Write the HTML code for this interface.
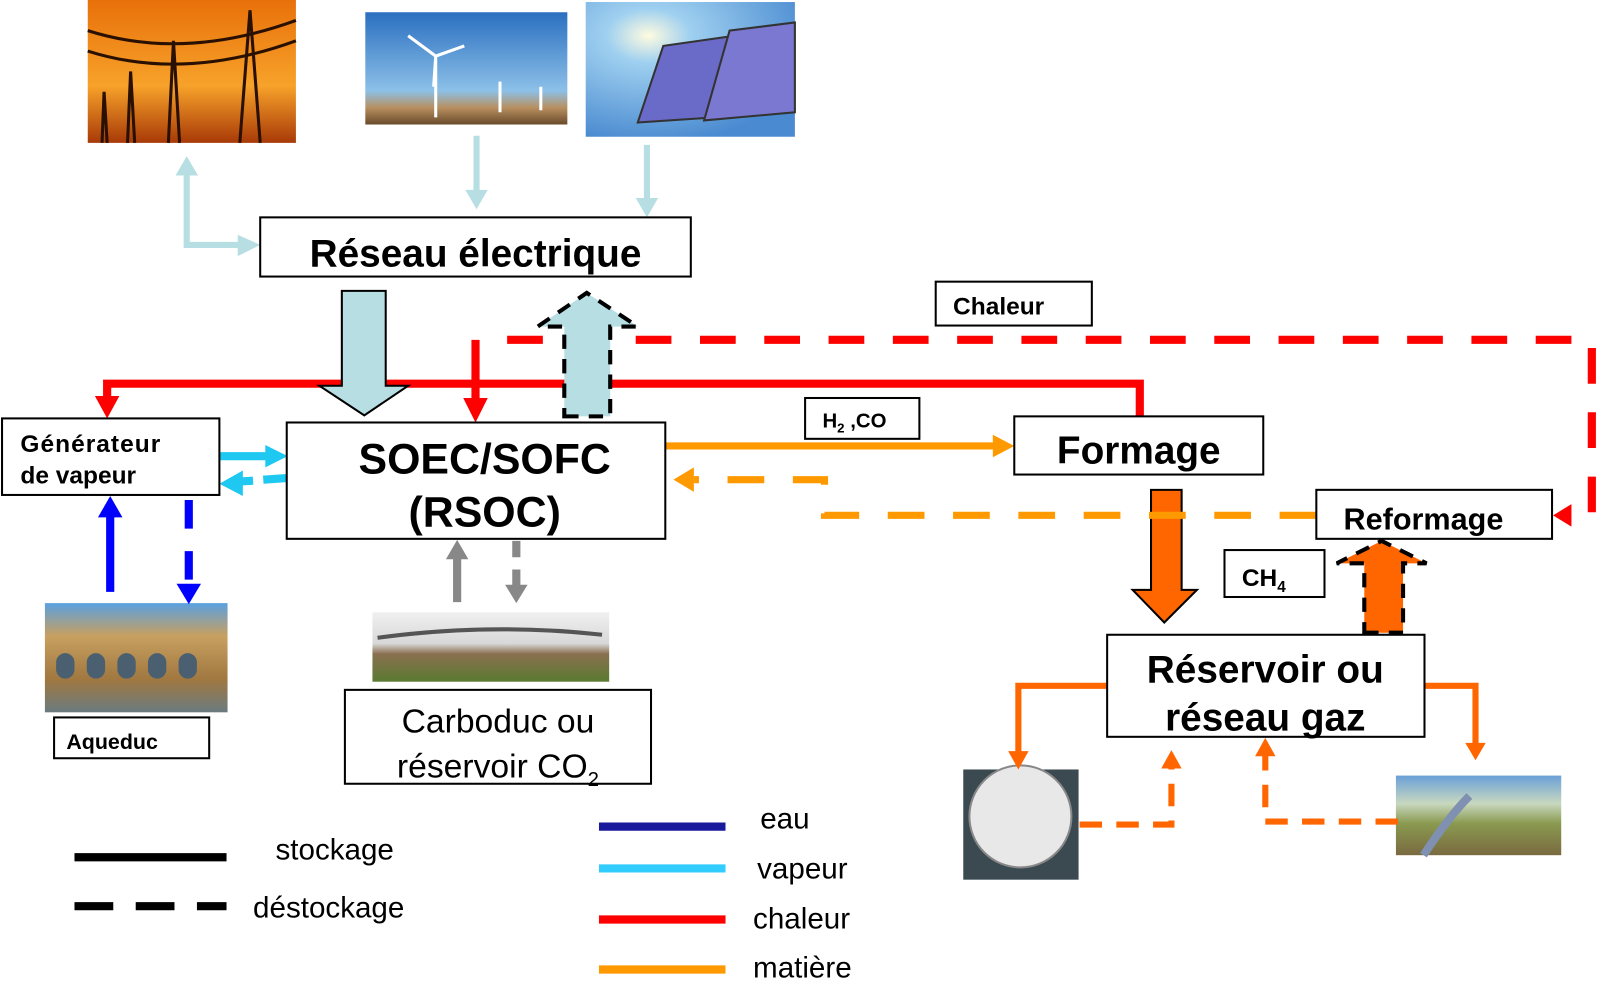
<!DOCTYPE html>
<html><head><meta charset="utf-8"><style>
html,body{margin:0;padding:0;background:#fff}
svg{display:block}
text{font-family:"Liberation Sans",Arial,sans-serif}
</style></head><body>
<svg width="1600" height="995" viewBox="0 0 1568 975" preserveAspectRatio="none" xmlns="http://www.w3.org/2000/svg">
<defs>
<linearGradient id="sun" x1="0" y1="0" x2="0" y2="1"><stop offset="0" stop-color="#e8700a"/><stop offset="0.6" stop-color="#f7a22a"/><stop offset="1" stop-color="#a83a08"/></linearGradient>
<linearGradient id="sky" x1="0" y1="0" x2="0" y2="1"><stop offset="0" stop-color="#2a6fc0"/><stop offset="0.7" stop-color="#8cc0e8"/><stop offset="0.85" stop-color="#b89060"/><stop offset="1" stop-color="#6a4a2a"/></linearGradient>
<radialGradient id="sol" cx="0.3" cy="0.25" r="0.8"><stop offset="0" stop-color="#fffbe0"/><stop offset="0.25" stop-color="#9fd0f0"/><stop offset="1" stop-color="#4a8ad0"/></radialGradient>
<linearGradient id="aq" x1="0" y1="0" x2="0" y2="1"><stop offset="0" stop-color="#5aa0e0"/><stop offset="0.3" stop-color="#c8a060"/><stop offset="0.7" stop-color="#a07840"/><stop offset="1" stop-color="#6a7a80"/></linearGradient>
<linearGradient id="cb" x1="0" y1="0" x2="0" y2="1"><stop offset="0" stop-color="#f0f0f0"/><stop offset="0.45" stop-color="#d8d8d8"/><stop offset="0.6" stop-color="#8a7050"/><stop offset="1" stop-color="#5a7a30"/></linearGradient>
<linearGradient id="pl" x1="0" y1="0" x2="0" y2="1"><stop offset="0" stop-color="#6aa0d8"/><stop offset="0.35" stop-color="#c8d8c0"/><stop offset="0.6" stop-color="#8a9a50"/><stop offset="1" stop-color="#7a6a40"/></linearGradient>
</defs>

<!-- photos -->
<rect x="86" y="0" width="204" height="140" fill="url(#sun)"/>
<g stroke="#2a1000" stroke-width="3" fill="none">
<path d="M235 140 L245 10 L255 140 M165 140 L170 40 L176 140 M125 140 L128 70 L132 140 M100 140 L102 90 L105 140"/>
<path d="M86 30 Q180 60 290 20 M86 50 Q180 80 290 40"/>
</g>
<rect x="358" y="12" width="198" height="110" fill="url(#sky)"/>
<g stroke="#fff" stroke-width="3"><path d="M427 115 L427 55 M427 55 L400 35 M427 55 L455 45 M427 55 L425 85 M490 110 L490 80 M530 108 L530 85"/></g>
<rect x="574" y="2" width="205" height="132" fill="url(#sol)"/>
<polygon points="625,120 650,45 720,35 700,115" fill="#6a6ac8" stroke="#333" stroke-width="2"/>
<polygon points="690,118 715,30 779,22 779,110" fill="#7a78d0" stroke="#333" stroke-width="2"/>
<rect x="44" y="591" width="179" height="107" fill="url(#aq)"/>
<g fill="#4a6070"><rect x="55" y="640" width="18" height="25" rx="9"/><rect x="85" y="640" width="18" height="25" rx="9"/><rect x="115" y="640" width="18" height="25" rx="9"/><rect x="145" y="640" width="18" height="25" rx="9"/><rect x="175" y="640" width="18" height="25" rx="9"/></g>
<rect x="365" y="600" width="232" height="68" fill="url(#cb)"/>
<path d="M370 625 Q480 610 590 622" stroke="#555" stroke-width="4" fill="none"/>
<rect x="944" y="754" width="113" height="108" fill="#3a4a50"/>
<circle cx="1000" cy="800" r="50" fill="#e8e8e8" stroke="#888" stroke-width="2"/>
<rect x="1368" y="760" width="162" height="78" fill="url(#pl)"/>
<path d="M1395 838 Q1420 800 1440 780" stroke="#8090b0" stroke-width="8" fill="none"/>

<!-- light blue arrows -->
<g stroke="#b7dfe3" stroke-width="6" fill="#b7dfe3">
<path d="M183 165 L183 240 L240 240" fill="none"/>
<polygon points="172,172 183,153 194,172" stroke="none"/>
<polygon points="233,230 255,240 233,251" stroke="none"/>
<path d="M467 133 L467 190" fill="none"/>
<polygon points="456,186 467,205 478,186" stroke="none"/>
<path d="M634 142 L634 198" fill="none"/>
<polygon points="623,194 634,213 645,194" stroke="none"/>
</g>

<!-- red dashed -->
<g stroke="#ff0000" stroke-width="8" fill="none">
<path d="M497 333 L1560 333 L1560 505 L1540 505" stroke-dasharray="35 28"/>
<path d="M466 333 L466 395"/>
</g>
<polygon points="454,390 466,414 478,390" fill="#ff0000"/>
<polygon points="1540,494 1522,505 1540,516" fill="#ff0000"/>
<!-- red solid -->
<path d="M1117 408 L1117 376 L105 376 L105 392" stroke="#ff0000" stroke-width="8" fill="none"/>
<polygon points="93,388 105,410 117,388" fill="#ff0000"/>

<!-- big arrows -->
<polygon points="335,285 378,285 378,378 400,378 357,407 313,378 335,378" fill="#b7dfe3" stroke="#000" stroke-width="2"/>
<polygon points="553,408 598,408 598,320 625,320 575,287 527,320 553,320" fill="#b7dfe3" stroke="#000" stroke-width="4" stroke-dasharray="14 10"/>
<polygon points="1128,480 1158,480 1158,578 1173,578 1141,610 1110,578 1128,578" fill="#ff6600" stroke="#000" stroke-width="2"/>
<polygon points="1337,620 1375,620 1375,552 1398,552 1354,530 1310,552 1337,552" fill="#ff6600" stroke="#000" stroke-width="4" stroke-dasharray="14 10"/>

<!-- cyan -->
<path d="M215 447 L265 447" stroke="#1fc8f0" stroke-width="8"/>
<polygon points="260,436 282,447 260,458" fill="#1fc8f0"/>
<path d="M288 468 L258 470 M248 471 L232 472" stroke="#1fc8f0" stroke-width="8"/>
<polygon points="238,461 215,474 238,486" fill="#1fc8f0"/>
<!-- blue -->
<path d="M108 580 L108 505" stroke="#0000ff" stroke-width="8"/>
<polygon points="96,507 108,486 120,507" fill="#0000ff"/>
<path d="M185 490 L185 572" stroke="#0000ff" stroke-width="8" stroke-dasharray="28 22"/>
<polygon points="173,572 185,592 197,572" fill="#0000ff"/>
<!-- gray -->
<path d="M448 590 L448 545" stroke="#888" stroke-width="8"/>
<polygon points="437,548 448,529 459,548" fill="#888"/>
<path d="M506 530 L506 575" stroke="#888" stroke-width="8" stroke-dasharray="16 12"/>
<polygon points="495,573 506,591 517,573" fill="#888"/>

<!-- orange -->
<path d="M648 437 L978 437" stroke="#ff9900" stroke-width="7"/>
<polygon points="973,426 994,437 973,448" fill="#ff9900"/>
<path d="M1290 505 L808 505 L808 470 L680 470" stroke="#ff9900" stroke-width="7" fill="none" stroke-dasharray="36 28"/>
<polygon points="680,458 660,470 680,482" fill="#ff9900"/>

<!-- dark orange lines -->
<g stroke="#ff6600" stroke-width="6" fill="none">
<path d="M1085 672 L998 672 L998 738"/>
<path d="M1396 672 L1446 672 L1446 730"/>
<path d="M1058 808 L1148 808 L1148 752" stroke-dasharray="22 14"/>
<path d="M1370 805 L1240 805 L1240 740" stroke-dasharray="22 14"/>
</g>
<g fill="#ff6600">
<polygon points="988,736 998,754 1008,736"/>
<polygon points="1436,728 1446,745 1456,728"/>
<polygon points="1138,753 1148,735 1158,753"/>
<polygon points="1230,741 1240,723 1250,741"/>
</g>

<!-- boxes -->
<g fill="#fff" stroke="#000" stroke-width="2">
<rect x="255" y="213" width="422" height="58"/>
<rect x="2" y="410" width="213" height="75"/>
<rect x="281" y="414" width="371" height="114"/>
<rect x="53" y="703" width="152" height="40"/>
<rect x="338" y="676" width="300" height="92"/>
<rect x="789" y="390" width="112" height="40"/>
<rect x="917" y="276" width="153" height="43"/>
<rect x="994" y="408" width="244" height="57"/>
<rect x="1290" y="480" width="231" height="48"/>
<rect x="1200" y="539" width="98" height="46"/>
<rect x="1085" y="622" width="311" height="100"/>
</g>

<g font-weight="bold" fill="#000">
<text x="466" y="261" font-size="38" text-anchor="middle">Réseau électrique</text>
<text x="20" y="443" font-size="24" letter-spacing="1">Générateur</text>
<text x="20" y="474" font-size="24">de vapeur</text>
<text x="475" y="464" font-size="42" text-anchor="middle">SOEC/SOFC</text>
<text x="475" y="516" font-size="42" text-anchor="middle">(RSOC)</text>
<text x="65" y="734" font-size="21">Aqueduc</text>
<text x="806" y="419" font-size="20">H<tspan font-size="13" dy="5">2</tspan><tspan dy="-5"> ,CO</tspan></text>
<text x="934" y="308" font-size="24">Chaleur</text>
<text x="1116" y="454" font-size="38" text-anchor="middle">Formage</text>
<text x="1395" y="519" font-size="30" text-anchor="middle">Reformage</text>
<text x="1217" y="574" font-size="24">CH<tspan font-size="15" dy="6">4</tspan></text>
<text x="1240" y="669" font-size="38" text-anchor="middle">Réservoir ou</text>
<text x="1240" y="716" font-size="38" text-anchor="middle">réseau gaz</text>
</g>
<text x="488" y="718" font-size="33" text-anchor="middle">Carboduc ou</text>
<text x="488" y="762" font-size="33" text-anchor="middle">réservoir CO<tspan font-size="20" dy="8">2</tspan></text>

<!-- legend -->
<path d="M73 840 L222 840" stroke="#000" stroke-width="8"/>
<path d="M73 888 L222 888" stroke="#000" stroke-width="8" stroke-dasharray="38 22"/>
<text x="270" y="842" font-size="29">stockage</text>
<text x="248" y="899" font-size="29">déstockage</text>
<path d="M587 810 L711 810" stroke="#1a1a9c" stroke-width="8"/>
<path d="M587 851 L711 851" stroke="#33ccff" stroke-width="8"/>
<path d="M587 901 L711 901" stroke="#ff0000" stroke-width="8"/>
<path d="M587 950 L711 950" stroke="#ff9900" stroke-width="8"/>
<text x="745" y="812" font-size="29">eau</text>
<text x="742" y="861" font-size="29">vapeur</text>
<text x="738" y="910" font-size="29">chaleur</text>
<text x="738" y="958" font-size="29">matière</text>
</svg>
</body></html>
